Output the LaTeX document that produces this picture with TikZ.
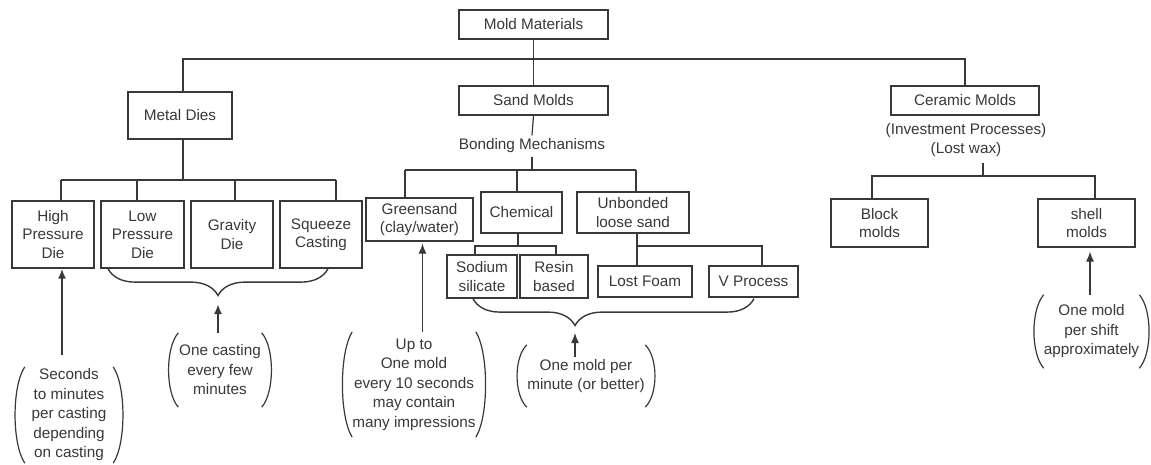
\documentclass[tikz,border=0pt]{standalone}
\usepackage{fontspec}
\setmainfont{Liberation Sans}
\usetikzlibrary{arrows.meta,decorations.pathreplacing,calc}
\definecolor{ink}{gray}{0.22}
\tikzset{
  box/.style={draw=ink, line width=1.2pt, align=center, inner sep=1pt},
  size/.style 2 args={minimum width=#1, minimum height=#2},
  note/.style={align=center, inner sep=0pt, font=\fontsize{15.3}{19.5}\selectfont},
  link/.style={draw=ink, line width=1.2pt},
  bar/.style={draw=ink, line width=2.2pt},
  arr/.style={draw=ink, line width=1.2pt, -{Latex[length=10pt,width=8pt]}},
  curly/.style={draw=ink, line width=1.4pt, decorate, decoration={brace, mirror, amplitude=27pt, #1}},
  curly/.default={aspect=0.5}
}
\begin{document}
\begin{tikzpicture}[x=1pt, y=-1pt, text=ink, font=\fontsize{15.3}{18.5}\selectfont]
  \useasboundingbox (0,0) rectangle (1151,464);
  % top levels
  \node[box, size={149pt}{29pt}] (mold) at (533.5,24.5) {Mold Materials};
  \node[box, size={149pt}{29pt}] (sand) at (533.5,100.5) {Sand Molds};
  \node[box, size={104pt}{47pt}] (metal) at (180,115.5) {Metal Dies};
  \node[box, size={148pt}{29pt}] (ceramic) at (965,100.5) {Ceramic Molds};
  \node[align=center, inner sep=5pt] (lostwax) at (966,140) {(Investment Processes)\\(Lost wax)};
  \node (bonding) at (532,146) {Bonding Mechanisms};
  % metal dies
  \node[box, size={82pt}{67pt}] (hpd) at (53,234.5) {High\\Pressure\\Die};
  \node[box, size={83pt}{67pt}] (lpd) at (142.5,234.5) {Low\\Pressure\\Die};
  \node[box, size={82pt}{67pt}] (gravity) at (232,234.5) {Gravity\\Die};
  \node[box, size={82pt}{67pt}] (squeeze) at (321,234.5) {Squeeze\\Casting};
  % sand molds
  \node[box, size={107pt}{43pt}] (green) at (419.5,219.5) {Greensand\\(clay/water)};
  \node[box, size={81pt}{41pt}] (chem) at (521.5,212.5) {Chemical};
  \node[box, size={112pt}{41pt}] (unbond) at (633,212.5) {Unbonded\\loose sand};
  \node[box, size={70pt}{43pt}] (sodium) at (482,276.5) {Sodium\\silicate};
  \node[box, size={68pt}{43pt}] (resin) at (554,276.5) {Resin\\based};
  \node[box, size={94pt}{31pt}] (foam) at (645,281.5) {Lost Foam};
  \node[box, size={89pt}{31pt}] (vproc) at (753.5,281.5) {V Process};
  % ceramic molds
  \node[box, size={97pt}{48pt}] (block) at (879.5,223) {Block\\molds};
  \node[box, size={97pt}{48pt}] (shell) at (1086.5,223) {shell\\molds};
  % rates
  \node[note, size={88pt}{96pt}] (hpnote) at (69,415) {Seconds\\to minutes\\per casting\\depending\\on casting};
  \node[note, size={83pt}{74pt}] (mdnote) at (220,370) {One casting\\every few\\minutes};
  \node[note, size={118pt}{105pt}] (gsnote) at (414,384.5) {Up to\\One mold\\every 10 seconds\\may contain\\many impressions};
  \node[note, size={118pt}{62pt}] (smnote) at (586,376) {One mold per\\minute (or better)};
  \node[note, size={93pt}{73pt}] (shnote) at (1091.5,331.5) {One mold\\per shift\\approximately};
  \foreach \n in {hpnote,mdnote,gsnote,smnote,shnote} {
    \draw[link] (\n.north west) .. controls ([xshift=-13pt]$(\n.north west)!0.2!(\n.south west)$)
      and ([xshift=-13pt]$(\n.north west)!0.8!(\n.south west)$) .. (\n.south west);
    \draw[link] (\n.north east) .. controls ([xshift=13pt]$(\n.north east)!0.2!(\n.south east)$)
      and ([xshift=13pt]$(\n.north east)!0.8!(\n.south east)$) .. (\n.south east);
  }

  \coordinate (top) at (533.5,59);
  \coordinate (mbar) at (183,180);
  \coordinate (sbar) at (532,170);
  \coordinate (ubar) at (637,246);
  \coordinate (kbar) at (983,176);
  \coordinate (mtip) at (218,304);
  \coordinate (stip) at (575,333);

  \draw[link] (mold.south) -- (sand.north);
  \draw[link] ([xshift=3pt]metal.north) |- (top) -| (ceramic.north);
  % metal branch
  \draw[link] ([xshift=3pt]metal.south) -- (mbar);
  \draw[bar] ([xshift=8pt]hpd.north |- mbar) -- ([xshift=15pt]squeeze.north |- mbar);
  \foreach \n/\s in {hpd/8pt,lpd/-5.5pt,gravity/3pt,squeeze/15pt}
    \draw[link] ([xshift=\s]\n.north) -- ([xshift=\s]\n.north |- mbar);
  % sand branch
  \draw[link] (sand.south) -- (bonding.north);
  \draw[link] (bonding.south) -- (sbar);
  \draw[bar] ([xshift=-14.5pt]green.north |- sbar) -- ([xshift=3pt]unbond.north |- sbar);
  \foreach \n/\s in {green/-14.5pt,chem/-4.5pt,unbond/3pt}
    \draw[link] ([xshift=\s]\n.north) -- ([xshift=\s]\n.north |- sbar);
  \draw[link] ([xshift=-3.5pt]chem.south) -- ++(0,13);
  \draw[link] ([xshift=-7pt]sodium.north) |- ([xshift=2pt]resin.north |- ubar) -- ([xshift=2pt]resin.north);
  \draw[link] ([xshift=4pt]unbond.south) -- ([xshift=-8pt]foam.north);
  \draw[link] (ubar) -| ([xshift=8.5pt]vproc.north);
  % ceramic branch
  \draw[link] (kbar) -- ++(0,-13);
  \draw[link] ([xshift=-7.5pt]block.north) |- (kbar) -| ([xshift=8.5pt]shell.north);
  \draw[bar] ([xshift=-7.5pt]block.north |- kbar) -- ([xshift=8.5pt]shell.north |- kbar);

  % braces and arrows
  \draw[curly] ([xshift=-34.5pt]lpd.south) -- ([xshift=7pt]squeeze.south);
  \draw[curly={aspect=0.363}] ([xshift=-9pt]sodium.south) -- ([xshift=0.5pt]vproc.south |- sodium.south);
  \draw[arr, line width=2pt] ([shift={(-7pt,12pt)}]hpnote.north) -- ([xshift=9pt]hpd.south);
  \draw[arr, line width=2pt] ([xshift=-2pt]mdnote.north) -- (mtip);
  \draw[arr] ([xshift=8.5pt]gsnote.north) -- ([xshift=3pt,yshift=-2pt]green.south);
  \draw[arr] ([shift={(-11pt,-12pt)}]smnote.north) -- (stip);
  \draw[arr] ([xshift=-1.5pt]shnote.north) -- ([xshift=3.5pt,yshift=-4pt]shell.south);
\end{tikzpicture}
\end{document}
